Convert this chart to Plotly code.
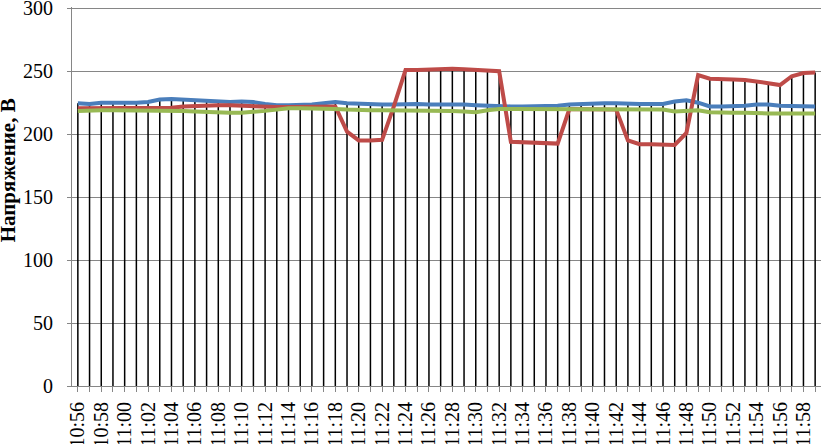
import plotly.graph_objects as go

times = [
    "10:56", "10:57", "10:58", "10:59", "11:00", "11:01", "11:02", "11:03",
    "11:04", "11:05", "11:06", "11:07", "11:08", "11:09", "11:10", "11:11",
    "11:12", "11:13", "11:14", "11:15", "11:16", "11:17", "11:18", "11:19",
    "11:20", "11:21", "11:22", "11:23", "11:24", "11:25", "11:26", "11:27",
    "11:28", "11:29", "11:30", "11:31", "11:32", "11:33", "11:34", "11:35",
    "11:36", "11:37", "11:38", "11:39", "11:40", "11:41", "11:42", "11:43",
    "11:44", "11:45", "11:46", "11:47", "11:48", "11:49", "11:50", "11:51",
    "11:52", "11:53", "11:54", "11:55", "11:56", "11:57", "11:58", "11:59",
]

phase_blue = [
    224.5, 224, 225, 225, 224.5, 225, 225.5, 227.5,
    228, 227.5, 227, 226, 225.5, 225.5, 226, 225.5,
    224, 223, 223, 223, 223.5, 224.5, 225.5, 224.5,
    224, 223.5, 223.5, 223.5, 224, 224, 223.5, 223.5,
    224, 223.5, 223, 222.5, 222.5, 222, 222, 222,
    222, 222.5, 223.5, 224, 224.5, 224.5, 224.5, 224,
    224, 224, 224, 226, 227, 225, 222, 222,
    222, 222.5, 223.5, 223.5, 222.5, 222.5, 222.5, 222,
]

phase_red = [
    220.5, 220.5, 221, 221, 220.5, 220.5, 221, 221,
    221, 222, 222.5, 223, 223, 223, 222.5, 222,
    221.5, 221.5, 221.5, 221.5, 221.5, 221.5, 222, 202,
    195, 195, 195.5, 222, 251, 251, 251.5, 252,
    252, 251.5, 251, 250, 250, 194, 193.5, 193,
    192.5, 192.5, 220, 220, 219.5, 219.5, 219.5, 195,
    192, 192, 192, 191.5, 201, 247, 244, 244,
    243.5, 243, 242, 240.5, 239, 246, 248.5, 249,
]

phase_green = [
    218.5, 219, 219, 219, 219, 219, 218.5, 218.5,
    218.5, 218.5, 218, 217.5, 217, 217, 217, 217.5,
    218.5, 219.5, 220.5, 220.5, 220.5, 220.5, 220, 219.5,
    219, 219, 219, 219, 219, 218.5, 218.5, 218.5,
    218.5, 218, 217.5, 219, 220, 220, 220, 220,
    220, 220, 220, 219.5, 219.5, 219.5, 219.5, 219.5,
    219.5, 219.5, 219.5, 218, 218.5, 219, 217.5, 217,
    217, 217, 216.5, 216.5, 216.5, 216.5, 216.5, 216.5,
]

SERIF = "Liberation Serif, Times New Roman, serif"
AXIS_GRAY = "#868686"

fig = go.Figure()

# drop lines: from the highest series value down to the axis at every minute
drop_x, drop_y = [], []
for t, b, r, g in zip(times, phase_blue, phase_red, phase_green):
    drop_x += [t, t, None]
    drop_y += [0, max(b, r, g), None]
fig.add_trace(
    go.Scatter(
        x=drop_x,
        y=drop_y,
        mode="lines",
        line=dict(color="#000000", width=1.5),
        showlegend=False,
        hoverinfo="skip",
    )
)

for values, color in [
    (phase_blue, "#4A7EBB"),
    (phase_red, "#BE4B48"),
    (phase_green, "#98B954"),
]:
    fig.add_trace(
        go.Scatter(
            x=times,
            y=values,
            mode="lines",
            line=dict(color=color, width=4),
            showlegend=False,
        )
    )

fig.update_layout(
    width=821,
    height=444,
    margin=dict(l=72, r=0, t=7, b=58),
    plot_bgcolor="#FFFFFF",
    paper_bgcolor="#FFFFFF",
    font=dict(family=SERIF, color="#000000", size=20),
    showlegend=False,
)

fig.update_xaxes(
    type="category",
    categoryorder="array",
    categoryarray=times,
    range=[-0.5, len(times) - 0.5],
    tickmode="array",
    tickvals=times,
    ticktext=[t if i % 2 == 0 else "" for i, t in enumerate(times)],
    tickangle=-90,
    tickfont=dict(family=SERIF, size=20, color="#000000"),
    ticks="outside",
    ticklen=5,
    tickcolor=AXIS_GRAY,
    ticklabelstandoff=2,
    ticklabeloverflow="allow",
    showline=True,
    linecolor=AXIS_GRAY,
    linewidth=1,
    showgrid=False,
    zeroline=False,
    automargin=False,
)

fig.update_yaxes(
    range=[0, 301],
    tickmode="array",
    tickvals=[0, 50, 100, 150, 200, 250, 300],
    tickfont=dict(family=SERIF, size=20, color="#000000"),
    ticks="outside",
    ticklen=4,
    tickcolor=AXIS_GRAY,
    ticklabelstandoff=10,
    ticklabeloverflow="allow",
    showline=True,
    linecolor=AXIS_GRAY,
    linewidth=1,
    showgrid=True,
    gridcolor=AXIS_GRAY,
    gridwidth=1,
    zeroline=False,
    automargin=False,
)

fig.add_annotation(
    text="<b>Напряжение, В</b>",
    xref="paper",
    yref="paper",
    x=-0.085,
    y=0.57,
    xanchor="center",
    yanchor="middle",
    textangle=-90,
    showarrow=False,
    font=dict(family=SERIF, size=21, color="#000000"),
)

fig.write_html(
    "out.html",
    config={"displayModeBar": False},
    post_script="document.body.style.margin = '0';",
)
